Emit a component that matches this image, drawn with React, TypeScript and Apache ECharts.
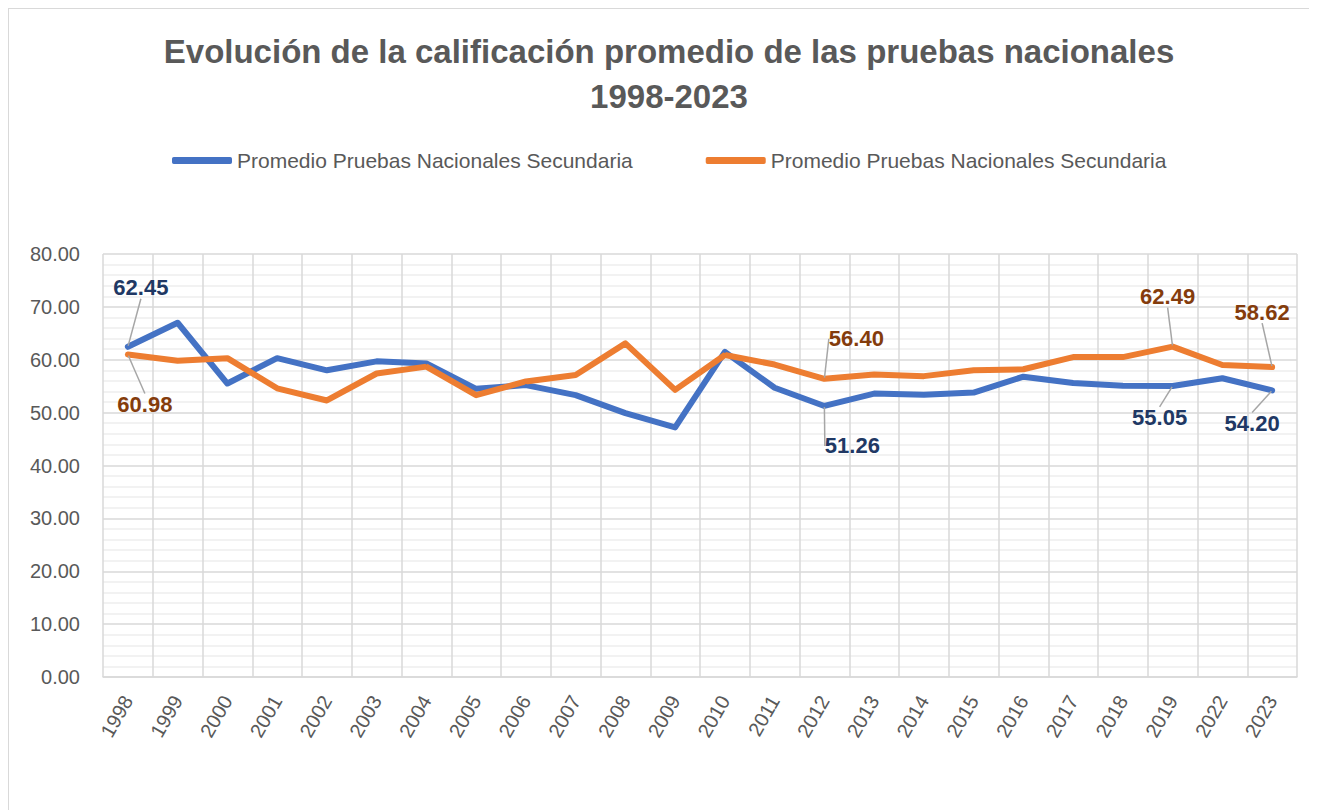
import React, { useEffect, useRef } from "react";
import * as echarts from "echarts";

const years = [
  "1998", "1999", "2000", "2001", "2002", "2003", "2004", "2005", "2006", "2007",
  "2008", "2009", "2010", "2011", "2012", "2013", "2014", "2015", "2016", "2017",
  "2018", "2019", "2022", "2023",
];
const seriesNameA = "Promedio Pruebas Nacionales Secundaria";
const seriesNameB = "Promedio Pruebas Nacionales Secundaria ";
const blueValues = [
  62.45, 67.0, 55.5, 60.3, 58.0, 59.7, 59.3, 54.5, 55.2, 53.3,
  49.9, 47.2, 61.5, 54.7, 51.26, 53.6, 53.4, 53.8, 56.8, 55.6,
  55.1, 55.05, 56.5, 54.2,
];
const orangeValues = [
  60.98, 59.8, 60.3, 54.6, 52.3, 57.4, 58.7, 53.3, 55.9, 57.1,
  63.1, 54.3, 60.9, 59.1, 56.4, 57.2, 56.9, 58.0, 58.2, 60.5,
  60.5, 62.49, 59.0, 58.62,
];
const labeledYears = ["1998", "2012", "2019", "2023"];
const yMin = 0;
const yMax = 80;
const yInterval = 10;

const FONT = "'Liberation Sans', Arial, sans-serif";
const GREY = "#595959";
const BLUE = "#4472C4";
const ORANGE = "#ED7D31";

const blueOffsets: Record<number, [number, number]> = {
  0: [13, -59],
  14: [28, 40],
  21: [-13, 32],
  23: [-20, 33],
};
const orangeOffsets: Record<number, [number, number]> = {
  0: [17, 50],
  14: [32, -40],
  21: [-5, -50],
  23: [-10, -55],
};

function buildData(values: number[]) {
  return values.map((v, i) =>
    labeledYears.includes(years[i]) ? { value: v, label: { show: true } } : v
  );
}

function makeSeries(
  name: string,
  values: number[],
  color: string,
  labelColor: string,
  offsets: Record<number, [number, number]>
) {
  return {
    type: "line",
    name,
    data: buildData(values),
    symbol: "circle",
    symbolSize: 2,
    showSymbol: true,
    lineStyle: { width: 6, color, cap: "round", join: "round" },
    itemStyle: { color },
    emphasis: { disabled: true },
    label: {
      show: false,
      position: "inside",
      formatter: (p: any) => Number(p.value).toFixed(2),
      fontSize: 22,
      fontWeight: "bold",
      color: labelColor,
      fontFamily: FONT,
    },
    labelLine: {
      show: true,
      lineStyle: { color: "#a6a6a6", width: 1.5 },
    },
    labelLayout: (p: any) => {
      const o = offsets[p.dataIndex];
      return o ? { dx: o[0], dy: o[1] } : {};
    },
  };
}

export default function App() {
  const ref = useRef<HTMLDivElement>(null);

  useEffect(() => {
    if (!ref.current) return;
    const chart = echarts.init(ref.current, undefined, { renderer: "svg" });
    chart.setOption({
      animation: false,
      backgroundColor: "#ffffff",
      graphic: [
        {
          type: "text",
          x: 660,
          y: 20,
          style: {
            text: "Evolución de la calificación promedio de las pruebas nacionales\n1998-2023",
            fontSize: 33,
            fontWeight: "bold",
            fontFamily: FONT,
            fill: GREY,
            textAlign: "center",
            textVerticalAlign: "top",
            lineHeight: 45,
          },
        },
      ],
      legend: {
        left: 163,
        top: 141,
        padding: 0,
        itemWidth: 60,
        itemHeight: 7,
        itemGap: 73,
        icon: "roundRect",
        formatter: (n: string) => n.trim(),
        textStyle: { fontSize: 21, color: GREY, fontFamily: FONT },
        data: [seriesNameA, seriesNameB],
      },
      grid: { left: 94, top: 245, width: 1194, height: 423 },
      xAxis: {
        type: "category",
        data: years,
        boundaryGap: true,
        axisLine: { show: true, lineStyle: { color: "#d9d9d9", width: 1.5 } },
        axisTick: { show: false },
        splitLine: { show: true, interval: 0, lineStyle: { color: "#d9d9d9", width: 1.5 } },
        axisLabel: {
          rotate: 60,
          interval: 0,
          margin: 20,
          fontSize: 20,
          color: GREY,
          fontFamily: FONT,
        },
      },
      yAxis: {
        type: "value",
        min: yMin,
        max: yMax,
        interval: yInterval,
        axisLine: { show: false },
        axisTick: { show: false },
        splitLine: { show: true, lineStyle: { color: "#d9d9d9", width: 1.5 } },
        minorTick: { show: false, splitNumber: 5 },
        minorSplitLine: { show: true, lineStyle: { color: "#eeeeee", width: 1.5 } },
        axisLabel: {
          margin: 23,
          fontSize: 20,
          color: GREY,
          fontFamily: FONT,
          formatter: (v: number) => v.toFixed(2),
        },
      },
      series: [
        makeSeries(seriesNameA, blueValues, BLUE, "#203864", blueOffsets),
        makeSeries(seriesNameB, orangeValues, ORANGE, "#843C0C", orangeOffsets),
      ],
    });
    return () => chart.dispose();
  }, []);

  return (
    <div
      style={{
        width: 1309,
        height: 802,
        boxSizing: "border-box",
        border: "1px solid #d9d9d9",
        borderBottom: "none",
        background: "#fff",
      }}
    >
      <div ref={ref} style={{ width: 1307, height: 801 }} />
    </div>
  );
}
